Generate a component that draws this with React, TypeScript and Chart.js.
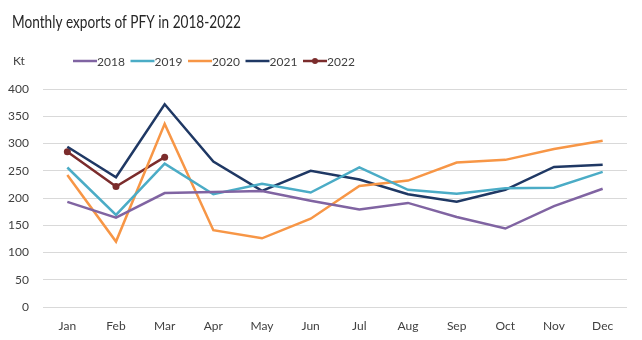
import React, { useEffect, useRef } from "react";
import { Chart, registerables } from "chart.js";

Chart.register(...registerables);

const categories = ["Jan", "Feb", "Mar", "Apr", "May", "Jun", "Jul", "Aug", "Sep", "Oct", "Nov", "Dec"];
const s2018 = [193, 164, 209, 211, 213, 195, 179, 191, 165, 144, 185, 217];
const s2019 = [256, 169, 263, 207, 226, 210, 256, 215, 208, 218, 219, 248];
const s2020 = [242, 120, 336, 141, 126, 162, 222, 232, 265, 270, 290, 305];
const s2021 = [294, 238, 372, 267, 213, 250, 234, 207, 193, 215, 257, 261];
const s2022 = [285, 221, 275];
const seriesNames = ["2018", "2019", "2020", "2021", "2022"];
const seriesColors = ["#8064a2", "#4bacc6", "#f79646", "#1f3864", "#7b2c2c"];
const titleText = "Monthly exports of PFY in 2018-2022";
const unitText = "Kt";

const FONT = "Lato, 'Open Sans', sans-serif";
const TITLE_FONT = "'Liberation Sans Narrow', Lato, sans-serif";

const decorPlugin = {
  id: "decor",
  afterDraw(chart: any) {
    const ctx = chart.ctx;
    ctx.save();
    ctx.fillStyle = "#262626";
    ctx.font = `18px ${TITLE_FONT}`;
    ctx.textBaseline = "middle";
    ctx.textAlign = "left";
    const w = ctx.measureText(titleText).width;
    const target = 229;
    ctx.save();
    ctx.translate(12, 22);
    if (w > target) ctx.scale(target / w, 1);
    ctx.fillText(titleText, 0, 0);
    ctx.restore();
    ctx.fillStyle = "#404040";
    ctx.font = `12px ${FONT}`;
    ctx.fillText(unitText, 13, 61);
    // legend
    const startX = 73;
    const step = 57.5;
    chart.data.datasets.forEach((ds: any, i: number) => {
      const x = startX + i * step;
      const y = 61;
      ctx.strokeStyle = ds.borderColor;
      ctx.lineWidth = 2.5;
      ctx.beginPath();
      ctx.moveTo(x, y);
      ctx.lineTo(x + 24, y);
      ctx.stroke();
      if (ds.pointRadius > 0) {
        ctx.fillStyle = ds.borderColor;
        ctx.beginPath();
        ctx.arc(x + 12, y, 3, 0, Math.PI * 2);
        ctx.fill();
      }
      ctx.fillStyle = "#404040";
      ctx.font = `12px ${FONT}`;
      ctx.fillText(ds.label, x + 24, y + 1);
    });
    ctx.restore();
  },
};

export default function App() {
  const ref = useRef<HTMLCanvasElement | null>(null);
  useEffect(() => {
    if (!ref.current) return;
    const all = [s2018, s2019, s2020, s2021, s2022];
    const chart = new Chart(ref.current, {
      type: "line",
      data: {
        labels: categories,
        datasets: all.map((d, i) => ({
          label: seriesNames[i],
          data: d,
          borderColor: seriesColors[i],
          backgroundColor: seriesColors[i],
          borderWidth: 2.5,
          pointRadius: i === 4 ? 3.5 : 0,
          pointBorderWidth: 0,
          pointHoverRadius: i === 4 ? 3.5 : 0,
          tension: 0,
          fill: false,
        })),
      },
      options: {
        responsive: false,
        animation: false,
        events: [],
        layout: { padding: { top: 89, right: 15, left: 0, bottom: 0 } },
        plugins: { legend: { display: false }, title: { display: false }, tooltip: { enabled: false } },
        scales: {
          x: {
            offset: true,
            grid: { display: false, drawTicks: false },
            border: { display: false },
            ticks: { color: "#404040", font: { family: FONT, size: 12 }, padding: 12, maxRotation: 0 },
            afterFit: (s: any) => { s.height = 33; },
          },
          y: {
            min: 0,
            max: 400,
            grid: { color: "#d9d9d9", lineWidth: 1, drawTicks: false },
            border: { display: false },
            ticks: { stepSize: 50, color: "#404040", font: { family: FONT, size: 12 }, padding: 14 },
            afterFit: (s: any) => { s.width = 43; },
          },
        },
      },
      plugins: [decorPlugin],
    });
    return () => chart.destroy();
  }, []);
  return (
    <div style={{ position: "fixed", left: 0, top: 0, width: 642, height: 340, background: "#fff" }}>
      <canvas ref={ref} width={642} height={340} style={{ width: 642, height: 340, display: "block" }} />
    </div>
  );
}
